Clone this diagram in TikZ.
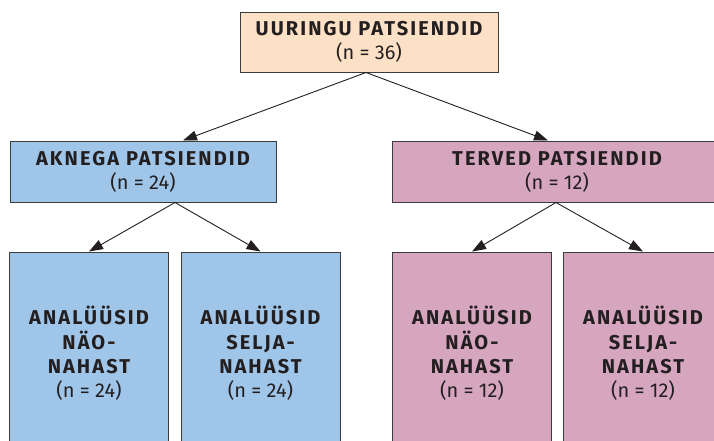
\documentclass[tikz,border=0pt]{standalone}
\usepackage{fontspec}
\setmainfont{Fira Sans}
\newfontfamily\hd[LetterSpace=10.5]{Fira Sans}
\usetikzlibrary{arrows.meta}
\definecolor{peach}{HTML}{FDE1C6}
\definecolor{lblue}{HTML}{9FC5E8}
\definecolor{lpink}{HTML}{D6A6BE}
\definecolor{edgec}{HTML}{3C3C3C}
\definecolor{ink}{HTML}{231F20}
\newcommand{\hb}[1]{{\hd\bfseries #1}}
\begin{document}
\begin{tikzpicture}[x=1pt,y=-1pt,
 box/.style={draw=edgec,line width=1pt,inner sep=0pt,align=center,text=ink,font=\fontsize{20}{24.3}\selectfont},
 kid/.style={box,minimum width=159pt,minimum height=200pt,text depth=0pt},
 arr/.style={draw=ink,line width=0.9pt,-{Triangle[length=14pt,width=10pt]}}]
\useasboundingbox (0,0) rectangle (714,440);
\clip (0,0) rectangle (714,440);
\node[box,fill=peach,minimum width=258pt,minimum height=60pt] (top) at (369,42) {\hb{UURINGU PATSIENDID}\\(n = 36)};
\node[box,fill=lblue,minimum width=266pt,minimum height=61pt] (ak) at (143,171.5) {\hb{AKNEGA PATSIENDID}\\(n = 24)};
\node[box,fill=lpink,minimum width=330pt,minimum height=61pt] (tv) at (557,171.5) {\hb{TERVED PATSIENDID}\\(n = 12)};
\node[kid,fill=lblue] (c1) at (89,352) {\hb{ANALÜÜSID}\\\hb{NÄO-}\\\hb{NAHAST}\\(n = 24)};
\node[kid,fill=lblue] (c2) at (260.5,352) {\hb{ANALÜÜSID}\\\hb{SELJA-}\\\hb{NAHAST}\\(n = 24)};
\node[kid,fill=lpink] (c3) at (472,352) {\hb{ANALÜÜSID}\\\hb{NÄO-}\\\hb{NAHAST}\\(n = 12)};
\node[kid,fill=lpink] (c4) at (643,352) {\hb{ANALÜÜSID}\\\hb{SELJA-}\\\hb{NAHAST}\\(n = 12)};
\draw[arr] ([xshift=-3pt]top.south) -- ([xshift=40pt]ak.north);
\draw[arr] ([xshift=-3pt]top.south) -- ([xshift=-9pt]tv.north);
\draw[arr] ([xshift=32pt]ak.south) -- (c1.north);
\draw[arr] ([xshift=32pt]ak.south) -- (c2.north);
\draw[arr] ([xshift=-1pt]tv.south) -- (c3.north);
\draw[arr] ([xshift=-1pt]tv.south) -- (c4.north);
\end{tikzpicture}
\end{document}
